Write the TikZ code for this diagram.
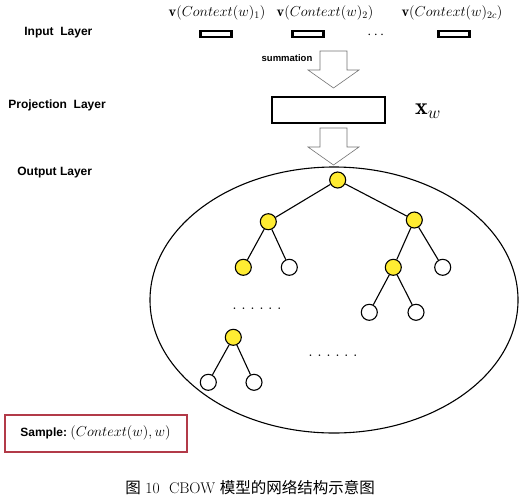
\documentclass[tikz,border=0pt]{standalone}
\usepackage{amsmath}
\usepackage{fontspec}
\setsansfont{Liberation Sans}
\newfontfamily\cjk{Noto Sans CJK SC}
\usetikzlibrary{shapes.geometric}
\definecolor{nodeyellow}{RGB}{255,236,50}
\definecolor{samplered}{RGB}{178,58,72}

\begin{document}
\begin{tikzpicture}[x=1pt, y=-1pt, thick,
  main/.style = {draw, circle, minimum size=16pt, inner sep=0pt, line width=1.1pt, fill=white},
  hit/.style = {main, fill=nodeyellow},
  vec/.style = {draw, line width=2.4pt, minimum width=31pt, minimum height=6pt, inner sep=0pt},
  layer/.style = {font=\sffamily\bfseries\fontsize{12}{14}\selectfont, anchor=west, inner sep=0pt},
  lbl/.style = {font=\fontsize{14.5}{17}\selectfont, inner sep=0pt},
  blockarrow/.style = {draw=black!55, line width=0.6pt, fill=white}]
\useasboundingbox (0,0) rectangle (529,501);

% layer names
\node[layer] (in) at (24,33) {Input\ \ Layer};
\node[layer] (proj) at (8,105) {Projection\ \ Layer};
\node[layer] (outl) at (17,173) {Output Layer};

% input vectors
\node[vec] (c1) at (216,34) {};
\node[vec] (c2) at (308,34) {};
\node[vec] (c3) at (454,34) {};
\node[lbl] (t1) at (217,13) {$\mathbf{v}(Context(w)_1)$};
\node[lbl] (t2) at (325,13) {$\mathbf{v}(Context(w)_2)$};
\node[lbl] (t3) at (452,13) {$\mathbf{v}(Context(w)_{2c})$};
\node[font=\fontsize{14}{14}\selectfont] (dd) at (377,35) {$\cdots$};

% block arrows
\foreach \t in {51,128}
  \draw[blockarrow] (320,\t) -- (347,\t) -- (347,\t+19) -- (359,\t+19)
    -- (333.5,\t+37) -- (308,\t+19) -- (320,\t+19) -- cycle;
\node[font=\sffamily\bfseries\fontsize{9.5}{11}\selectfont, inner sep=0pt] (sum) at (287,58) {summation};

% projection
\node[draw, line width=2.6pt, minimum width=113pt, minimum height=26pt] (xw) at (328.5,110) {};
\node[font=\fontsize{24}{28}\selectfont] (xwl) at (428,111) {$\mathbf{x}_w$};

% output layer
\node[draw, ellipse, line width=1.1pt, minimum width=368pt, minimum height=266pt] (out) at (334,300) {};
\node[hit] (1) at (337.7,180) {};
\node[hit] (2) at (268.3,221.7) {};
\node[hit] (3) at (414.3,220) {};
\node[hit] (4) at (243.3,267.3) {};
\node[main] (5) at (289.3,267.3) {};
\node[hit] (6) at (393.3,267.3) {};
\node[main] (7) at (442.7,267.3) {};
\node[main] (8) at (369.3,312.3) {};
\node[main] (9) at (416,312.3) {};
\node[hit] (10) at (233.3,337.3) {};
\node[main] (11) at (208.3,382.3) {};
\node[main] (12) at (254,382.3) {};
\node[font=\bfseries\fontsize{11}{12}\selectfont] (d1) at (257,309) {. . . . . .};
\node[font=\bfseries\fontsize{11}{12}\selectfont] (d2) at (333,356) {. . . . . .};
\draw[line width=1.1pt] (1) -- (2);
\draw[line width=1.1pt] (1) -- (3);
\draw[line width=1.1pt] (2) -- (4);
\draw[line width=1.1pt] (2) -- (5);
\draw[line width=1.1pt] (3) -- (6);
\draw[line width=1.1pt] (3) -- (7);
\draw[line width=1.1pt] (6) -- (8);
\draw[line width=1.1pt] (6) -- (9);
\draw[line width=1.1pt] (10) -- (11);
\draw[line width=1.1pt] (10) -- (12);

% sample
\node[draw=samplered, line width=2.4pt, minimum width=182pt, minimum height=37pt] (smp) at (96,433.5) {};
\node[anchor=west, inner sep=0pt] (smpt) at (20,433) {\sffamily\bfseries\fontsize{12}{14}\selectfont Sample:\ \rmfamily\mdseries\fontsize{15}{17}\selectfont$(Context(w),w)$};

% caption
\node[font=\fontsize{15.5}{18}\selectfont] (cap) at (250,488) {{\cjk 图} 10\ \ CBOW {\cjk 模型的网络结构示意图}};
\end{tikzpicture}
\end{document}
